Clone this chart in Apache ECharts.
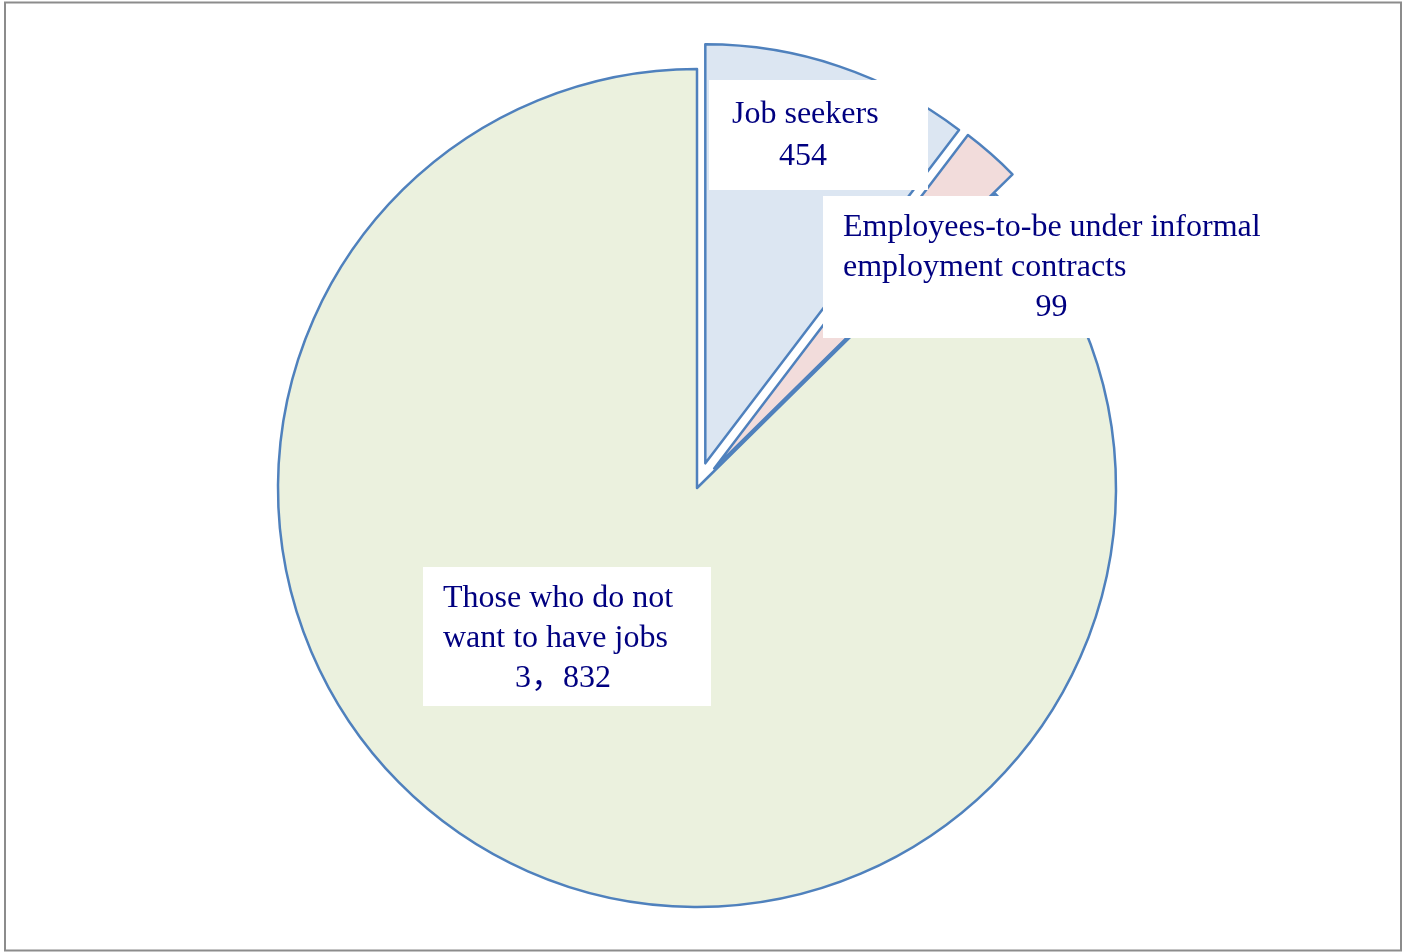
<!DOCTYPE html>
<html>
<head>
<meta charset="utf-8">
<script src="https://cdn.jsdelivr.net/npm/echarts@6/dist/echarts.min.js"></script>
<style>
  html, body { margin: 0; padding: 0; background: #fff; }
  #chart { width: 1402px; height: 952px; }
</style>
</head>
<body>
<div id="chart"></div>
<script>
const categories = ['Job seekers', 'Employees-to-be under informal\nemployment contracts', 'Those who do not\nwant to have jobs']
const values = [454, 99, 3832]
const valueLabels = ['454', '99', '3，832']
const fills = ['#dce6f2', '#f2dcdb', '#ebf1de']
const exploded = [true, true, false]

// label boxes: left, top, paddings, content width, line height
const labelBoxes = [
    { x: 709, y: 80, padding: [14, 54, 12, 23], width: 142, lh: 42 },
    { x: 823, y: 196, padding: [12, 30, 10, 20], width: 417, lh: 40 },
    { x: 423, y: 567, padding: [12, 28, 7, 20], width: 240, lh: 40 }
]

{
    let view = document.getElementById('chart')
    let myChart = echarts.init(view, null, { renderer: 'canvas' })
    let font = '"Liberation Serif", "Times New Roman", "Noto Sans CJK SC", serif'

    let data = categories.map((name, i) => {
        let style = { color: fills[i], borderColor: '#4f81bd', borderWidth: 2.5 }
        return {
            name: name,
            value: values[i],
            selected: exploded[i],
            itemStyle: style,
            select: { itemStyle: style }
        }
    })

    // the data labels, drawn as boxed text on top of the pie
    let labels = categories.map((name, i) => {
        let box = labelBoxes[i]
        let lines = name.split('\n').map(s => '{a|' + s + '}')
        lines.push('{b|' + valueLabels[i] + '}')
        return {
            type: 'text',
            x: box.x,
            y: box.y,
            z: 100,
            silent: true,
            style: {
                text: lines.join('\n'),
                backgroundColor: '#ffffff',
                padding: box.padding,
                width: box.width,
                rich: {
                    a: { fontFamily: font, fontSize: 32, fill: '#000080', lineHeight: box.lh, align: 'left' },
                    b: { fontFamily: font, fontSize: 32, fill: '#000080', lineHeight: box.lh, align: 'center' }
                }
            }
        }
    })

    let option = {
        animation: false,
        backgroundColor: '#fff',
        graphic: [{
            type: 'rect',
            shape: { x: 5, y: 2.5, width: 1396, height: 948 },
            style: { fill: 'none', stroke: '#8c8c8c', lineWidth: 2 },
            silent: true
        }].concat(labels),
        series: [{
            type: 'pie',
            center: [697, 488],
            radius: [0, 419],
            startAngle: 90,
            clockwise: true,
            selectedMode: 'multiple',
            selectedOffset: 26,
            emphasis: { disabled: true },
            label: { show: false },
            labelLine: { show: false },
            data: data
        }]
    }
    myChart.setOption(option)
}
</script>
</body>
</html>
